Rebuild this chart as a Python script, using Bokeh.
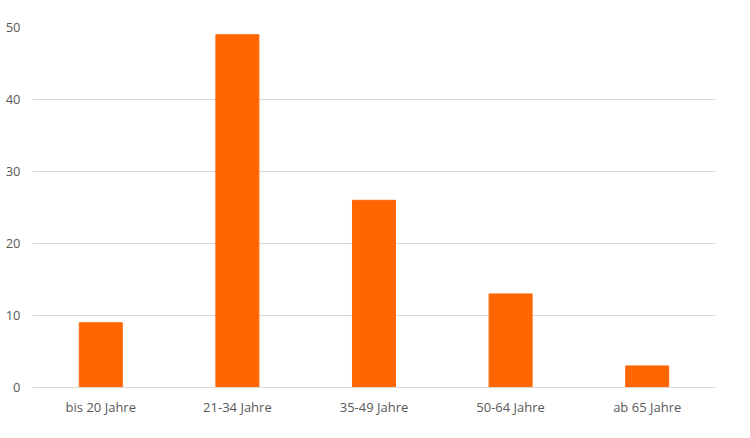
from bokeh.plotting import figure
from bokeh.models import ColumnDataSource, Range1d, SingleIntervalTicker
from bokeh.embed import file_html
from bokeh.resources import INLINE

# Altersgruppen
groups = ["bis 20 Jahre", "21-34 Jahre", "35-49 Jahre", "50-64 Jahre", "ab 65 Jahre"]
counts = [9, 49, 26, 13, 3]

src = ColumnDataSource(data=dict(groups=groups, counts=counts))

p = figure(
    x_range=groups,
    y_range=Range1d(0, 50),
    width=734,
    height=422,
    output_backend="svg",
    toolbar_location=None,
    min_border_left=32,
    min_border_right=19,
    min_border_top=27,
    min_border_bottom=35,
)

p.vbar(x="groups", top="counts", width=0.315, source=src,
       fill_color="#FF6600", line_color="#FF6A0D", line_width=1)

grey_txt = "#595959"
grid = "#D9D9D9"

p.outline_line_color = None
p.xgrid.grid_line_color = None
p.ygrid.grid_line_color = grid
p.ygrid.grid_line_width = 1

p.yaxis.ticker = SingleIntervalTicker(interval=10)
p.yaxis.axis_line_color = None
p.yaxis.major_label_standoff = 12

p.xaxis.axis_line_color = grid
p.xaxis.major_label_standoff = 10

for ax in (p.xaxis, p.yaxis):
    # no tick marks, and no space kept for them
    ax.major_tick_line_color = None
    ax.minor_tick_line_color = None
    ax.major_tick_out = 0
    ax.major_tick_in = 0
    ax.minor_tick_out = 0
    ax.minor_tick_in = 0
    ax.major_label_text_font = "Open Sans"
    ax.major_label_text_font_size = "13px"
    ax.major_label_text_color = grey_txt

open("out.html", "w").write(file_html(p, INLINE))
